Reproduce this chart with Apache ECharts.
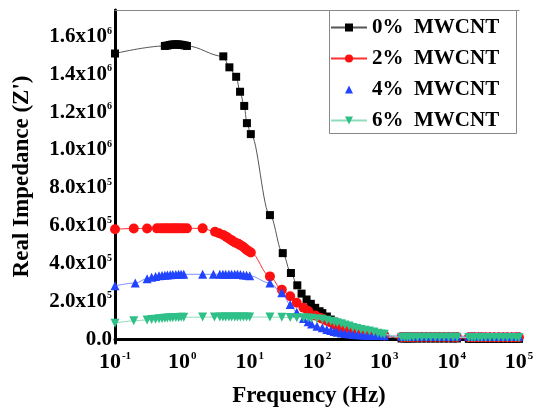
<!DOCTYPE html>
<html><head><meta charset="utf-8">
<script src="https://cdn.jsdelivr.net/npm/echarts@6/dist/echarts.min.js"></script>
<style>html,body{margin:0;padding:0;background:#fff}#c{width:537px;height:414px}</style>
</head><body><div id="c"></div>
<script>
// Units: frequency in Hz, real impedance in 10^6 ohm
const seriesNames = ['0%  MWCNT', '2%  MWCNT', '4%  MWCNT', '6%  MWCNT'];

const hiFreq = [120,140,160,180,200,230,260,300,340,390,450,520,600,700,800,900,1000,
  1800,2000,2200,2400,2700,3100,3600,4200,4900,5700,6600,7700,9000,10500,12000,
  18000,20000,22000,25000,28000,32000,37000,43000,50000,58000,67000,78000,90000,100000];

const freq0 = [0.1,0.55,0.6,0.65,0.7,0.75,0.8,0.85,0.9,0.95,1.0,1.08,1.17,4.06,5.0,6.3,7.2,8.3,9.1,10.4,20,31,41,51,59,70,81,94,109];
const imp0 = [1.51,1.55,1.552,1.555,1.557,1.558,1.558,1.558,1.557,1.556,1.555,1.553,1.55,1.495,1.437,1.387,1.308,1.233,1.142,1.084,0.656,0.455,0.35,0.285,0.241,0.21,0.187,0.166,0.148];
const imp0Hi = [0.138,0.12,0.104,0.093,0.083,0.072,0.063,0.054,0.047,0.041,0.035,0.03,0.026,0.022,0.019,0.016,0.014,
  0.004,0.004,0.004,0.004,0.004,0.004,0.004,0.004,0.004,0.004,0.004,0.004,0.004,0.004,0.004,
  0.002,0.002,0.002,0.002,0.002,0.002,0.002,0.002,0.002,0.002,0.002,0.002,0.002,0.002];

const freq2 = [0.1,0.19,0.3,0.42,0.47,0.52,0.57,0.62,0.68,0.74,0.8,0.87,0.95,1.05,1.17,2.0,3.06,3.5,4.06,4.5,4.83,5.3,5.7,6.2,6.8,7.3,7.9,8.5,9.06,9.7,10.4,20,30,40,50,63,74,94,111];
const imp2 = [0.581,0.585,0.585,0.586,0.586,0.586,0.586,0.586,0.586,0.586,0.586,0.586,0.586,0.586,0.586,0.586,
  0.568,0.56,0.551,0.542,0.534,0.525,0.516,0.51,0.504,0.497,0.49,0.481,0.472,0.465,0.458,
  0.332,0.262,0.227,0.193,0.166,0.149,0.126,0.114];
const imp2Hi = [0.108,0.098,0.088,0.078,0.07,0.06,0.052,0.045,0.04,0.036,0.033,0.03,0.028,0.026,0.024,0.022,0.02,
  0.012,0.012,0.012,0.012,0.012,0.012,0.012,0.012,0.012,0.012,0.012,0.012,0.012,0.012,0.012,
  0.01,0.01,0.01,0.01,0.01,0.01,0.01,0.01,0.01,0.01,0.01,0.01,0.01,0.01];

const freq4 = [0.1,0.2,0.3,0.35,0.4,0.45,0.5,0.55,0.6,0.66,0.72,0.8,0.88,0.96,1.05,2.0,2.9,3.6,4.0,4.4,4.9,5.4,6.0,6.6,7.3,8.1,9.0,10.0,20,30,40,50,63,74,83,100];
const imp4 = [0.282,0.297,0.32,0.328,0.332,0.335,0.337,0.338,0.34,0.341,0.342,0.342,0.343,0.343,0.343,0.343,
  0.343,0.344,0.344,0.344,0.344,0.344,0.343,0.343,0.342,0.34,0.338,0.335,
  0.297,0.245,0.184,0.143,0.11,0.092,0.08,0.068];
const imp4Hi = [0.06,0.052,0.046,0.041,0.037,0.033,0.03,0.027,0.025,0.023,0.022,0.021,0.02,0.02,0.019,0.019,0.018,
  0.016,0.016,0.016,0.016,0.016,0.016,0.016,0.016,0.016,0.016,0.016,0.016,0.016,0.016,0.016,
  0.016,0.016,0.016,0.016,0.016,0.016,0.016,0.016,0.016,0.016,0.016,0.016,0.016,0.016];

const freq6 = [0.1,0.19,0.3,0.35,0.4,0.45,0.5,0.55,0.6,0.66,0.72,0.8,0.88,0.96,1.05,2.0,3.0,3.6,4.0,4.4,4.9,5.4,6.0,6.6,7.3,8.1,9.0,10.0,20,30,40,50,63,74,83,100];
const imp6 = [0.085,0.097,0.102,0.104,0.106,0.108,0.11,0.111,0.112,0.113,0.114,0.115,0.115,0.116,0.116,0.117,
  0.117,0.117,0.117,0.117,0.117,0.117,0.117,0.117,0.117,0.117,0.117,0.117,
  0.117,0.116,0.115,0.114,0.113,0.112,0.111,0.108];
const imp6Hi = [0.105,0.1,0.095,0.09,0.087,0.082,0.075,0.07,0.062,0.057,0.052,0.048,0.044,0.038,0.032,0.028,0.026,
  0.01,0.01,0.01,0.01,0.01,0.01,0.01,0.01,0.01,0.01,0.01,0.01,0.01,0.01,0.01,
  0.009,0.009,0.009,0.009,0.009,0.009,0.009,0.009,0.009,0.009,0.009,0.009,0.009,0.009];

const yTickText = ['0.0','2.0x10','4.0x10','6.0x10','8.0x10','1.0x10','1.2x10','1.4x10','1.6x10'];
const yTickExp  = ['','5','5','5','5','6','6','6','6'];
const xTickExp = {'0.1':'-1','1':'0','10':'1','100':'2','1000':'3','10000':'4','100000':'5'};

function pairs(f, v) { return f.map((x, i) => [x, v[i]]); }

const FONT = 'Liberation Serif';
const chart = echarts.init(document.getElementById('c'), null, {renderer: 'canvas'});

const markerColors = ['#000000', '#ff1010', '#2244ff', '#2fc088'];
const lineColors = ['#555555', '#ff3030', '#7d8dff', '#8fdcbc'];
const symbols = ['rect', 'circle', 'triangle', 'triangle'];
const sizes = [8, 10, 9, 9];
const rots = [0, 0, 0, 180];
const datasets = [
  pairs(freq0.concat(hiFreq), imp0.concat(imp0Hi)),
  pairs(freq2.concat(hiFreq), imp2.concat(imp2Hi)),
  pairs(freq4.concat(hiFreq), imp4.concat(imp4Hi)),
  pairs(freq6.concat(hiFreq), imp6.concat(imp6Hi))
];

chart.setOption({
  animation: false,
  backgroundColor: '#fff',
  grid: {left: 115, right: 18, top: 10, bottom: 71},
  graphic: [{
    type: 'rect', shape: {x: 329.5, y: 10.5, width: 187, height: 123},
    style: {fill: '#fff', stroke: '#888', lineWidth: 1}, z: 5
  }],
  legend: {
    orient: 'vertical', left: 330, top: 17, z: 10, padding: 0,
    itemWidth: 36, itemHeight: 10, itemGap: 10,
    textStyle: {fontFamily: FONT, fontWeight: 'bold', fontSize: 21, color: '#000', lineHeight: 20},
    data: [
      {name: seriesNames[0]},
      {name: seriesNames[1]},
      {name: seriesNames[2], lineStyle: {opacity: 0}},
      {name: seriesNames[3]}
    ]
  },
  xAxis: [{
    type: 'log', logBase: 10, min: 0.1, max: 100000,
    axisLine: {lineStyle: {color: '#000', width: 3}},
    axisTick: {show: false}, splitLine: {show: false}, minorTick: {show: false},
    axisLabel: {
      margin: 8,
      formatter: function (v) {
        const key = String(Math.round(v * 10) / 10);
        const e = xTickExp[key];
        return e === undefined ? '' : '{b|10}{s|' + e + '}';
      },
      rich: {
        b: {fontFamily: FONT, fontWeight: 'bold', fontSize: 22, color: '#000'},
        s: {fontFamily: FONT, fontWeight: 'bold', fontSize: 11, color: '#000', padding: [0, 0, 11, 1]}
      }
    },
    name: 'Frequency (Hz)', nameLocation: 'middle', nameGap: 42,
    nameTextStyle: {fontFamily: FONT, fontWeight: 'bold', fontSize: 23, color: '#000', padding: [0, 16, 0, 0]}
  }, {
    type: 'log', logBase: 10, min: 0.1, max: 100000, position: 'top',
    axisLine: {show: true, lineStyle: {color: '#888', width: 1}},
    axisTick: {show: false}, axisLabel: {show: false}, splitLine: {show: false}
  }],
  yAxis: {
    type: 'value', min: -0.02, max: 1.74, interval: 0.02,
    axisLine: {show: true, lineStyle: {color: '#000', width: 3}},
    axisTick: {show: false}, splitLine: {show: false},
    axisLabel: {
      interval: 0, margin: 3,
      formatter: function (v) {
        const k = Math.round(v * 100);
        if (k < 0 || k % 20 !== 0) return '';
        const i = k / 20;
        if (i >= yTickText.length) return '';
        return yTickExp[i] ? '{b|' + yTickText[i] + '}{s|' + yTickExp[i] + '}' : '{b|' + yTickText[i] + '}';
      },
      rich: {
        b: {fontFamily: FONT, fontWeight: 'bold', fontSize: 21, color: '#000'},
        s: {fontFamily: FONT, fontWeight: 'bold', fontSize: 10, color: '#000', padding: [0, 0, 11, 0]}
      }
    },
    name: "Real Impedance (Z')", nameLocation: 'middle', nameGap: 81, nameRotate: 90,
    nameTextStyle: {fontFamily: FONT, fontWeight: 'bold', fontSize: 23, color: '#000'}
  },
  series: datasets.map((d, i) => ({
    name: seriesNames[i], type: 'line', data: d,
    xAxisIndex: 0, yAxisIndex: 0,
    symbol: symbols[i], symbolSize: sizes[i], symbolRotate: rots[i],
    smooth: 0.35, smoothMonotone: 'x',
    itemStyle: {color: markerColors[i]},
    lineStyle: {color: lineColors[i], width: 1},
    z: 2 + i
  }))
});
</script>
</body></html>
